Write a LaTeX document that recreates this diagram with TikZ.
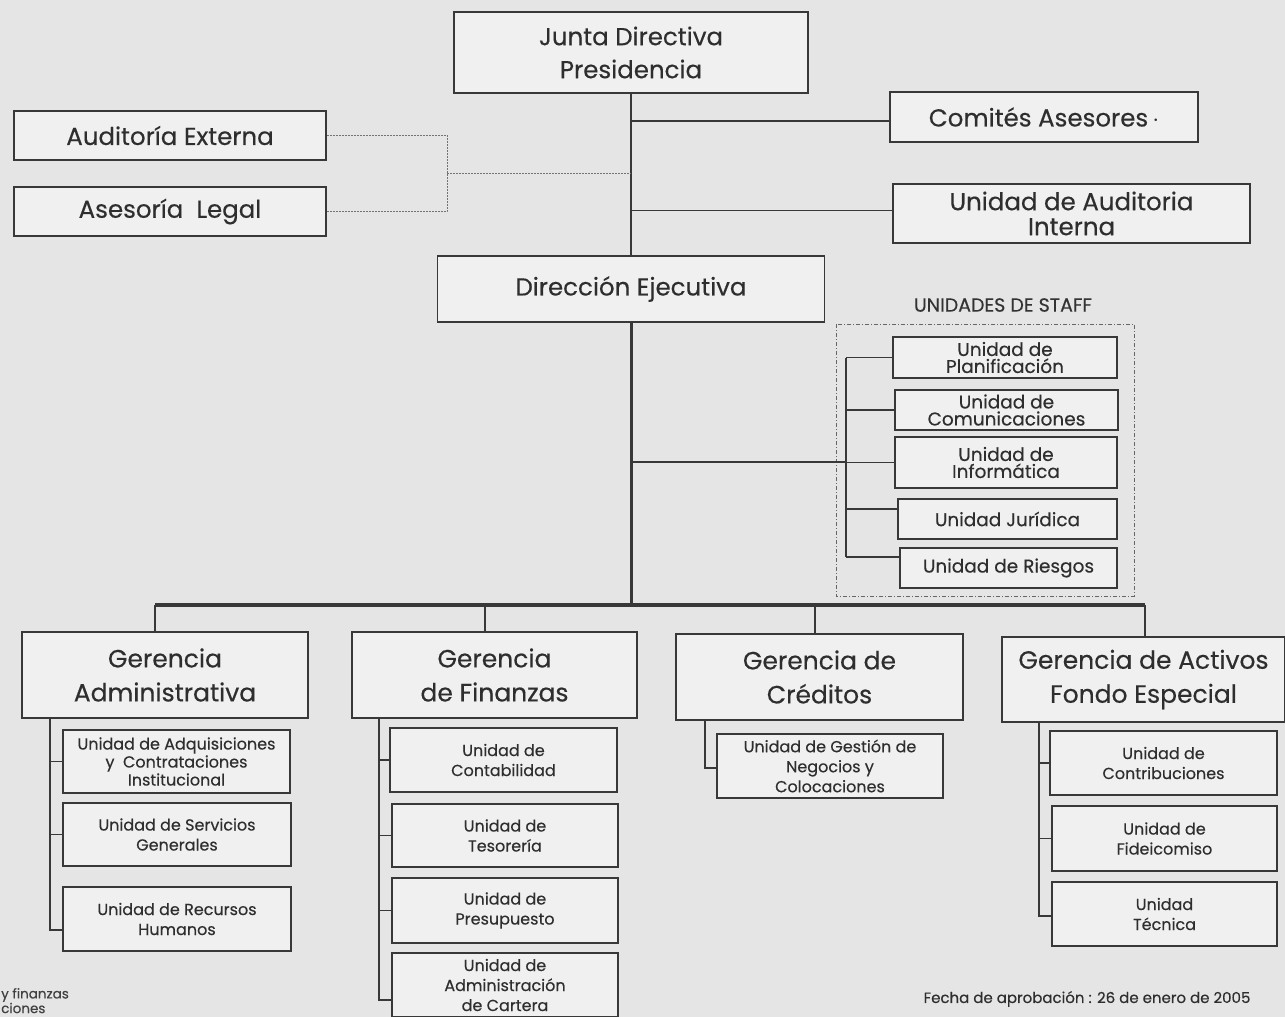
\documentclass[tikz,border=0pt]{standalone}
\usepackage{fontspec}
\setmainfont{Poppins}[FakeBold=0.35]
\begin{document}
\begin{tikzpicture}[x=1pt,y=-1pt,
  ink/.style={draw=black!78},
  box/.style={ink, line width=1.6pt, fill=black!6, text=black!82, align=center, inner sep=0pt},
  bigbox/.style={box, font=\fontsize{24.5}{33}\selectfont},
  midbox/.style={box, font=\fontsize{25}{34}\selectfont},
  staffbox/.style={box, line width=1.4pt, font=\fontsize{18.5}{17}\selectfont},
  unitbox/.style={box, line width=1.4pt, font=\fontsize{16}{20}\selectfont},
  link/.style={ink, line width=1.6pt},
  trunk/.style={ink, line width=3pt},
  sublink/.style={ink, line width=1.3pt},
  advlink/.style={draw=black!55, line width=0.9pt, dash pattern=on 2pt off 1pt}]
\useasboundingbox (0,0) rectangle (1285,1017);
\fill[black!10] (0,0) rectangle (1285,1017);

% top of the hierarchy
\node[bigbox, minimum width=354, minimum height=81] (junta) at (631,52.5) {Junta Directiva\\Presidencia};
\node[bigbox, minimum width=312, minimum height=49] (audext) at (170,135.5) {Auditoría Externa};
\node[bigbox, minimum width=312, minimum height=49] (aselegal) at (170,211.5) {Asesoría\ \ Legal};
\node[bigbox, minimum width=308, minimum height=50] (comites) at (1044,117) {Comités Asesores\,$\cdot$};
\node[bigbox, font=\fontsize{24.5}{25}\selectfont, minimum width=357, minimum height=59] (audint) at (1071.5,213.5) {Unidad de Auditoria\\Interna};
\node[bigbox, minimum width=387, minimum height=66] (direccion) at (631,289) {Dirección Ejecutiva};

% staff units
\node[text=black!80, font=\fontsize{19}{19}\selectfont] (stafflbl) at (1003,305) {UNIDADES DE STAFF};
\draw[draw=black!60, line width=1pt, dash pattern=on 4pt off 2pt on 1pt off 2pt] (836,324) rectangle (1134,596);
\node[staffbox, minimum width=224, minimum height=41] (plan) at (1005,357.5) {Unidad de\\Planificación};
\node[staffbox, minimum width=223, minimum height=40] (comun) at (1006.5,410) {Unidad de\\Comunicaciones};
\node[staffbox, minimum width=222, minimum height=51] (inform) at (1006,462.5) {Unidad de\\Informática};
\node[staffbox, minimum width=219, minimum height=40] (jurid) at (1007.5,519) {Unidad Jurídica};
\node[staffbox, minimum width=217, minimum height=40] (riesgos) at (1008.5,568) {Unidad de Riesgos};

% managements
\node[midbox, minimum width=286, minimum height=86] (gadm) at (165,675) {Gerencia\\Administrativa};
\node[midbox, minimum width=285, minimum height=86] (gfin) at (494.5,675) {Gerencia\\de Finanzas};
\node[midbox, minimum width=287, minimum height=86] (gcred) at (819.5,677) {Gerencia de\\Créditos};
\node[midbox, minimum width=283, minimum height=85] (gact) at (1143.5,679.5) {Gerencia de Activos\\Fondo Especial};

% units under each management
\node[unitbox, font=\fontsize{16}{18}\selectfont, minimum width=227, minimum height=63] (adq) at (176.5,761.5) {Unidad de Adquisiciones\\y\ \ Contrataciones\\Institucional};
\node[unitbox, minimum width=228, minimum height=63] (serv) at (177,834.5) {Unidad de Servicios\\Generales};
\node[unitbox, minimum width=228, minimum height=64] (rrhh) at (177,919) {Unidad de Recursos\\Humanos};

\node[unitbox, minimum width=227, minimum height=64] (conta) at (503.5,760) {Unidad de\\Contabilidad};
\node[unitbox, minimum width=226, minimum height=63] (teso) at (505,835.5) {Unidad de\\Tesorería};
\node[unitbox, minimum width=226, minimum height=65] (presu) at (505,910.5) {Unidad de\\Presupuesto};
\node[unitbox, minimum width=226, minimum height=64] (cartera) at (505,985) {Unidad de\\Administración\\de Cartera};

\node[unitbox, minimum width=226, minimum height=64] (gest) at (830,766) {Unidad de Gestión de\\Negocios y\\Colocaciones};

\node[unitbox, minimum width=227, minimum height=64] (contri) at (1163.5,763) {Unidad de\\Contribuciones};
\node[unitbox, minimum width=225, minimum height=65] (fidei) at (1164.5,838.5) {Unidad de\\Fideicomiso};
\node[unitbox, minimum width=225, minimum height=64] (tecnica) at (1164.5,914) {Unidad\\Técnica};

% approval date and edge notes
\node[text=black!82, font=\fontsize{15}{15}\selectfont] (fecha) at (1087,999) {Fecha de aprobación : 26 de enero de 2005};
\node[anchor=west, inner sep=0pt, text=black!75, font=\fontsize{13.5}{14}\selectfont] (nota1) at (1,995) {y finanzas};
\node[anchor=west, inner sep=0pt, text=black!75, font=\fontsize{13.5}{14}\selectfont] (nota2) at (1,1008) {ciones};

% coordinates for branching points
\coordinate (dj) at (447,173);
\coordinate (sb) at (846,462);
\coordinate (bar) at (631,605);
\coordinate (d1) at (155,605);
\coordinate (d2) at (485,605);
\coordinate (d3) at (815,605);
\coordinate (d4) at (1145,605);
\coordinate (ba) at (50,718);
\coordinate (bf) at (379,718);
\coordinate (bc) at (705,720);
\coordinate (bt) at (1039,722);

% upper trunk and side units
\draw[link] (junta.south) -- (direccion.north);
\draw[link] ([yshift=-4pt]comites.west) -- ([yshift=-4pt]comites.west -| junta.south);
\draw[link] ([yshift=3pt]audint.west) -- ([yshift=3pt]audint.west -| junta.south);
\draw[advlink] (audext.east) -| (dj);
\draw[advlink] (aselegal.east) -| (dj);
\draw[advlink] (dj) -- (dj -| junta.south);

% lower trunk and main bar
\draw[trunk] (direccion.south) -- (bar);
\draw[ink, line width=4pt] (d1) -- (d4);
\draw[link, line width=2pt] (d1) -- (d1 |- gadm.north);
\draw[link, line width=2pt] (d2) -- (d2 |- gfin.north);
\draw[link, line width=2pt] (d3) -- (d3 |- gcred.north);
\draw[link, line width=2pt] (d4) -- (d4 |- gact.north);

% staff bracket
\draw[link] (sb -| direccion.south) -- (sb);
\draw[link] (plan.west -| sb) -- ([yshift=11pt]riesgos.west -| sb);
\draw[link] (plan.west) -- (plan.west -| sb);
\draw[link] (comun.west) -- (comun.west -| sb);
\draw[link] (inform.west) -- (inform.west -| sb);
\draw[link] ([yshift=10pt]jurid.west) -- ([yshift=10pt]jurid.west -| sb);
\draw[link] ([yshift=11pt]riesgos.west) -- ([yshift=11pt]riesgos.west -| sb);

% unit brackets
\draw[sublink] (ba) |- ([yshift=-11pt]rrhh.west);
\draw[sublink] (adq.west) -- (adq.west -| ba);
\draw[sublink] (serv.west) -- (serv.west -| ba);

\draw[sublink] (bf) |- ([yshift=-15pt]cartera.west);
\draw[sublink] (conta.west) -- (conta.west -| bf);
\draw[sublink] (teso.west) -- (teso.west -| bf);
\draw[sublink] (presu.west) -- (presu.west -| bf);

\draw[sublink] (bc) |- ([yshift=-2pt]gest.west);

\draw[sublink] (bt) |- ([yshift=-2pt]tecnica.west);
\draw[sublink] (contri.west) -- (contri.west -| bt);
\draw[sublink] (fidei.west) -- (fidei.west -| bt);
\end{tikzpicture}
\end{document}
